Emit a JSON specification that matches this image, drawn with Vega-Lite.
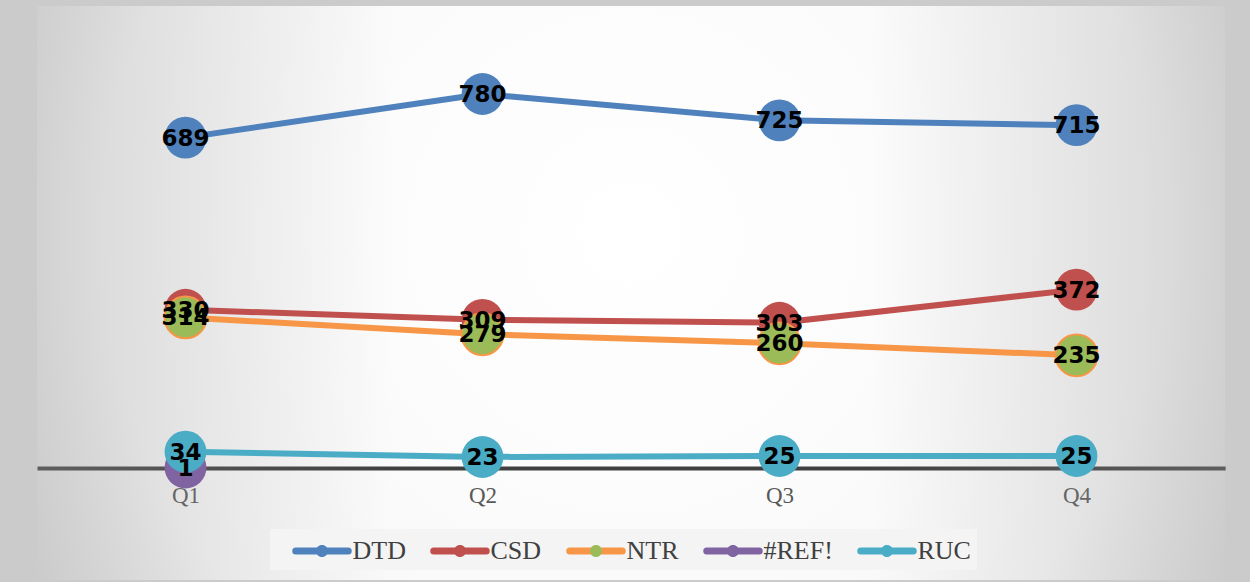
{
  "$schema": "https://vega.github.io/schema/vega-lite/v6.json",
  "width": 1188,
  "height": 574,
  "autosize": {"type": "none"},
  "padding": {"left": 37, "top": 6, "right": 25, "bottom": 2},
  "background": "#cbcbcb",
  "config": {
    "view": {
      "stroke": null,
      "fill": {
        "gradient": "radial",
        "x1": 0.5, "y1": 0.45, "r1": 0,
        "x2": 0.5, "y2": 0.45, "r2": 0.75,
        "stops": [
          {"offset": 0, "color": "#ffffff"},
          {"offset": 0.6, "color": "#f8f8f8"},
          {"offset": 1, "color": "#d2d2d2"}
        ]
      }
    }
  },
  "data": {
    "values": [
      {"series": "DTD", "quarter": "Q1", "value": 689},
      {"series": "DTD", "quarter": "Q2", "value": 780},
      {"series": "DTD", "quarter": "Q3", "value": 725},
      {"series": "DTD", "quarter": "Q4", "value": 715},
      {"series": "CSD", "quarter": "Q1", "value": 330},
      {"series": "CSD", "quarter": "Q2", "value": 309},
      {"series": "CSD", "quarter": "Q3", "value": 303},
      {"series": "CSD", "quarter": "Q4", "value": 372},
      {"series": "NTR", "quarter": "Q1", "value": 314},
      {"series": "NTR", "quarter": "Q2", "value": 279},
      {"series": "NTR", "quarter": "Q3", "value": 260},
      {"series": "NTR", "quarter": "Q4", "value": 235},
      {"series": "#REF!", "quarter": "Q1", "value": 1},
      {"series": "RUC", "quarter": "Q1", "value": 34},
      {"series": "RUC", "quarter": "Q2", "value": 23},
      {"series": "RUC", "quarter": "Q3", "value": 25},
      {"series": "RUC", "quarter": "Q4", "value": 25}
    ]
  },
  "encoding": {
    "x": {
      "field": "quarter",
      "type": "ordinal",
      "scale": {"type": "point", "padding": 0.5},
      "axis": {
        "title": null,
        "orient": "bottom",
        "offset": -112,
        "domainColor": "#404040",
        "domainWidth": 4,
        "ticks": false,
        "tickSize": 0,
        "grid": false,
        "labelAngle": 0,
        "labelFont": "Liberation Serif",
        "labelFontSize": 23,
        "labelColor": "#595959",
        "labelPadding": 16
      }
    },
    "y": {
      "field": "value",
      "type": "quantitative",
      "scale": {"domain": [-233.6, 963.5], "nice": false, "zero": false},
      "axis": null
    }
  },
  "layer": [
    {
      "data": {"values": [{}]},
      "mark": {
        "type": "rect",
        "fill": {
          "gradient": "linear",
          "x1": 0, "y1": 0, "x2": 1, "y2": 0,
          "stops": [
            {"offset": 0, "color": "rgba(150,150,150,0.35)"},
            {"offset": 0.3, "color": "rgba(150,150,150,0)"},
            {"offset": 0.7, "color": "rgba(150,150,150,0)"},
            {"offset": 1, "color": "rgba(150,150,150,0.35)"}
          ]
        }
      },
      "encoding": {"x": null, "y": null}
    },
    {
      "mark": {"type": "line", "strokeWidth": 6, "strokeJoin": "round"},
      "encoding": {
        "color": {
          "field": "series",
          "type": "nominal",
          "scale": {
            "domain": ["DTD", "CSD", "NTR", "#REF!", "RUC"],
            "range": ["#4f81bd", "#c0504d", "#f79646", "#8064a2", "#4bacc6"]
          },
          "legend": {
            "orient": "none",
            "legendX": 233,
            "legendY": 523,
            "direction": "horizontal",
            "title": " ",
            "titleOrient": "left",
            "titleFontSize": 1,
            "titlePadding": 30,
            "padding": 6,
            "fillColor": "#f4f4f4",
            "symbolType": "M-1.75,-0.167H1.75A0.167,0.167,0,0,1,1.75,0.167H-1.75A0.167,0.167,0,0,1,-1.75,-0.167Z",
            "symbolSize": 900,
            "symbolStrokeWidth": 2,
            "labelFont": "Liberation Serif",
            "labelFontSize": 26,
            "labelColor": "#404040",
            "labelOffset": 14.5,
            "columnPadding": 21,
            "encode": {
              "symbols": {
                "update": {
                  "fill": {"scale": "color", "field": "value"},
                  "stroke": {"scale": "color", "field": "value"},
                  "opacity": {"value": 1}
                }
              }
            }
          }
        }
      }
    },
    {
      "mark": {"type": "point", "filled": true, "size": 1750, "opacity": 1, "strokeWidth": 2},
      "encoding": {
        "fill": {
          "field": "series",
          "type": "nominal",
          "sort": ["DTD", "CSD", "NTR", "#REF!", "RUC"],
          "scale": {"range": ["#4f81bd", "#c0504d", "#9bbb59", "#8064a2", "#4bacc6"]},
          "legend": {
            "orient": "none",
            "legendX": 233,
            "legendY": 523,
            "direction": "horizontal",
            "title": " ",
            "titleOrient": "left",
            "titleFontSize": 1,
            "titlePadding": 30,
            "padding": 6,
            "symbolType": "M-1.917,0H1.917M0.4,0A0.4,0.4,0,1,1,-0.4,0A0.4,0.4,0,1,1,0.4,0Z",
            "symbolSize": 900,
            "symbolStrokeWidth": 2,
            "labelFont": "Liberation Serif",
            "labelFontSize": 26,
            "labelOpacity": 0,
            "labelOffset": 14.5,
            "columnPadding": 21,
            "encode": {
              "symbols": {
                "update": {
                  "opacity": {"value": 1},
                  "stroke": {"signal": "datum.value === 'NTR' ? '#f79646' : scale('fill', datum.value)"}
                }
              }
            }
          }
        },
        "stroke": {
          "condition": {"test": "datum.series === 'NTR'", "value": "#f79646"},
          "value": "transparent"
        }
      }
    },
    {
      "mark": {
        "type": "text",
        "font": "DejaVu Sans",
        "fontWeight": "bold",
        "fontSize": 23,
        "color": "#000000",
        "align": "center",
        "baseline": "middle",
        "dy": 1
      },
      "encoding": {
        "text": {"field": "value", "type": "quantitative"},
        "detail": {"field": "series"}
      }
    }
  ]
}
